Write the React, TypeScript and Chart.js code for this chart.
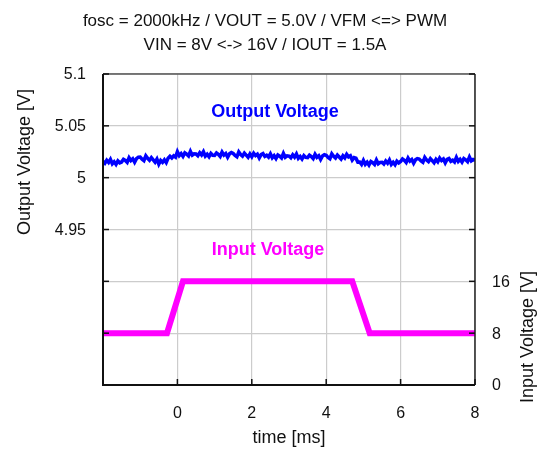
import React, { useEffect, useRef } from "react";
import { Chart, registerables } from "chart.js";

Chart.register(...registerables);

const TITLE_LINES = [
  "fosc = 2000kHz / VOUT = 5.0V / VFM <=> PWM",
  "VIN = 8V <-> 16V / IOUT = 1.5A",
];

// Output voltage trace: sampled every TIME_STEP ms starting at TIME_START
const TIME_START = -2;
const TIME_STEP = 0.05;
const OUTPUT_V = [
  5.0156, 5.0139, 5.0168, 5.0146, 5.0177, 5.0134, 5.0153, 5.0128, 5.0161, 5.0143,
  5.0151, 5.0177, 5.0166, 5.0148, 5.0192, 5.0165, 5.0182, 5.0148, 5.0183, 5.0197,
  5.0198, 5.0179, 5.0165, 5.0211, 5.0186, 5.0168, 5.0194, 5.0172, 5.0149, 5.0179,
  5.0131, 5.0166, 5.0148, 5.0172, 5.0145, 5.0188, 5.0207, 5.0190, 5.0211, 5.0198,
  5.0250, 5.0212, 5.0232, 5.0205, 5.0239, 5.0227, 5.0210, 5.0254, 5.0217, 5.0230,
  5.0229, 5.0212, 5.0241, 5.0219, 5.0250, 5.0207, 5.0226, 5.0201, 5.0234, 5.0216,
  5.0214, 5.0238, 5.0225, 5.0205, 5.0247, 5.0218, 5.0233, 5.0197, 5.0230, 5.0242,
  5.0233, 5.0214, 5.0201, 5.0248, 5.0224, 5.0208, 5.0236, 5.0217, 5.0197, 5.0229,
  5.0201, 5.0236, 5.0213, 5.0227, 5.0190, 5.0223, 5.0232, 5.0205, 5.0216, 5.0198,
  5.0230, 5.0192, 5.0212, 5.0185, 5.0219, 5.0207, 5.0190, 5.0234, 5.0197, 5.0210,
  5.0208, 5.0191, 5.0220, 5.0198, 5.0229, 5.0186, 5.0205, 5.0180, 5.0213, 5.0195,
  5.0193, 5.0217, 5.0204, 5.0184, 5.0226, 5.0197, 5.0212, 5.0176, 5.0209, 5.0221,
  5.0215, 5.0196, 5.0183, 5.0230, 5.0206, 5.0190, 5.0218, 5.0199, 5.0179, 5.0211,
  5.0191, 5.0226, 5.0201, 5.0212, 5.0170, 5.0193, 5.0187, 5.0150, 5.0151, 5.0128,
  5.0167, 5.0129, 5.0149, 5.0122, 5.0156, 5.0144, 5.0127, 5.0171, 5.0134, 5.0147,
  5.0149, 5.0132, 5.0161, 5.0139, 5.0171, 5.0128, 5.0148, 5.0124, 5.0159, 5.0142,
  5.0156, 5.0180, 5.0167, 5.0147, 5.0189, 5.0160, 5.0175, 5.0139, 5.0172, 5.0184,
  5.0180, 5.0161, 5.0148, 5.0195, 5.0171, 5.0155, 5.0183, 5.0164, 5.0144, 5.0176,
  5.0154, 5.0189, 5.0166, 5.0180, 5.0143, 5.0176, 5.0185, 5.0158, 5.0169, 5.0151,
  5.0195, 5.0157, 5.0177, 5.0150, 5.0184, 5.0172, 5.0155, 5.0199, 5.0162, 5.0175,
  5.0168,
];

// Input voltage trace
const INPUT_T = [-2, -0.28, 0.15, 4.7, 5.17, 8];
const INPUT_V = [8, 8, 16, 16, 8, 8];

// Axes
const X_MIN = -2;
const X_MAX = 8;
const X_TICKS = [0, 2, 4, 6, 8];
const YL_MIN = 4.8;
const YL_MAX = 5.1;
const YL_TICKS = [5.1, 5.05, 5, 4.95];
const YR_MIN = 0;
const YR_MAX = 48;
const YR_TICKS = [0, 8, 16];

const FONT = "'Liberation Sans', Arial, Helvetica, sans-serif";

export default function App() {
  const ref = useRef<HTMLCanvasElement | null>(null);

  useEffect(() => {
    document.body.style.overflow = "hidden";
    if (!ref.current) return;
    const outData = OUTPUT_V.map((v, i) => ({ x: TIME_START + i * TIME_STEP, y: v }));
    const inData = INPUT_T.map((t, i) => ({ x: t, y: INPUT_V[i] }));

    const overlay = {
      id: "overlay",
      afterDraw(chart: any) {
        const ctx = chart.ctx as CanvasRenderingContext2D;
        const a = chart.chartArea;
        const sx = chart.scales.x;
        const sl = chart.scales.yL;
        const sr = chart.scales.yR;
        ctx.save();
        // frame
        ctx.lineWidth = 1.5;
        ctx.strokeStyle = "#555";
        ctx.beginPath();
        ctx.moveTo(a.left, a.top);
        ctx.lineTo(a.right, a.top);
        ctx.stroke();
        ctx.strokeStyle = "#222";
        ctx.beginPath();
        ctx.moveTo(a.right, a.top);
        ctx.lineTo(a.right, a.bottom);
        ctx.stroke();
        ctx.lineWidth = 2;
        ctx.strokeStyle = "#111";
        ctx.beginPath();
        ctx.moveTo(a.left, a.top);
        ctx.lineTo(a.left, a.bottom);
        ctx.lineTo(a.right, a.bottom);
        ctx.stroke();
        // inward ticks
        ctx.lineWidth = 1.5;
        const TL = 6;
        for (let v = YL_MIN; v <= YL_MAX + 1e-9; v += 0.05) {
          const y = sl.getPixelForValue(v);
          ctx.beginPath();
          ctx.moveTo(a.left, y);
          ctx.lineTo(a.left + TL, y);
          ctx.stroke();
        }
        for (let v = YR_MIN; v <= YR_MAX + 1e-9; v += 8) {
          const y = sr.getPixelForValue(v);
          ctx.beginPath();
          ctx.moveTo(a.right, y);
          ctx.lineTo(a.right - TL, y);
          ctx.stroke();
        }
        for (let v = X_MIN; v <= X_MAX + 1e-9; v += 2) {
          const x = sx.getPixelForValue(v);
          ctx.beginPath();
          ctx.moveTo(x, a.bottom);
          ctx.lineTo(x, a.bottom - TL);
          ctx.stroke();
        }
        // tick labels
        ctx.fillStyle = "#111";
        ctx.font = `16px ${FONT}`;
        ctx.textBaseline = "middle";
        ctx.textAlign = "right";
        YL_TICKS.forEach((v) => {
          ctx.fillText(String(v), a.left - 17, sl.getPixelForValue(v) + 1);
        });
        ctx.textAlign = "left";
        YR_TICKS.forEach((v) => {
          ctx.fillText(String(v), a.right + 17, sr.getPixelForValue(v) + 1);
        });
        ctx.textAlign = "center";
        X_TICKS.forEach((v) => {
          ctx.fillText(String(v), sx.getPixelForValue(v), a.bottom + 29);
        });
        // axis titles
        ctx.font = `18px ${FONT}`;
        ctx.fillText("time [ms]", 281, 430);
        ctx.save();
        ctx.translate(17, 154);
        ctx.rotate(-Math.PI / 2);
        ctx.fillText("Output Voltage [V]", 0, 0);
        ctx.restore();
        ctx.save();
        ctx.translate(520, 329);
        ctx.rotate(-Math.PI / 2);
        ctx.fillText("Input Voltage [V]", 0, 0);
        ctx.restore();
        // title
        ctx.font = `17px ${FONT}`;
        ctx.fillText(TITLE_LINES[0], 257, 13);
        ctx.fillText(TITLE_LINES[1], 257, 37);
        // series labels
        ctx.font = `bold 18px ${FONT}`;
        ctx.fillStyle = "#0000ff";
        ctx.fillText("Output Voltage", 267, 104);
        ctx.fillStyle = "#ff00ff";
        ctx.fillText("Input Voltage", 260, 242);
        ctx.restore();
      },
    };

    const chart = new Chart(ref.current, {
      type: "line",
      data: {
        datasets: [
          {
            label: "Output Voltage",
            data: outData,
            yAxisID: "yL",
            borderColor: "#0000ff",
            borderWidth: 3.5,
            pointRadius: 0,
            tension: 0,
          },
          {
            label: "Input Voltage",
            data: inData,
            yAxisID: "yR",
            borderColor: "#ff00ff",
            borderWidth: 6,
            pointRadius: 0,
            tension: 0,
          },
        ],
      },
      options: {
        responsive: false,
        animation: false,
        layout: { padding: { left: 95, right: 62, top: 66, bottom: 64 } },
        plugins: { legend: { display: false }, tooltip: { enabled: false }, title: { display: false } },
        scales: {
          x: {
            type: "linear",
            min: X_MIN,
            max: X_MAX,
            ticks: { display: false, stepSize: 2 },
            border: { display: false },
            grid: { color: "#cccccc", lineWidth: 1.2, drawTicks: false },
          },
          yL: {
            type: "linear",
            position: "left",
            min: YL_MIN,
            max: YL_MAX,
            ticks: { display: false, stepSize: 0.05 },
            border: { display: false },
            grid: { color: "#cccccc", lineWidth: 1.2, drawTicks: false },
          },
          yR: {
            type: "linear",
            position: "right",
            min: YR_MIN,
            max: YR_MAX,
            ticks: { display: false, stepSize: 8 },
            border: { display: false },
            grid: { display: false, drawTicks: false },
          },
        },
      },
      plugins: [overlay],
    });
    return () => chart.destroy();
  }, []);

  return (
    <div style={{ width: 529, height: 441 }}>
      <canvas ref={ref} width={529} height={441} style={{ display: "block" }} />
    </div>
  );
}
